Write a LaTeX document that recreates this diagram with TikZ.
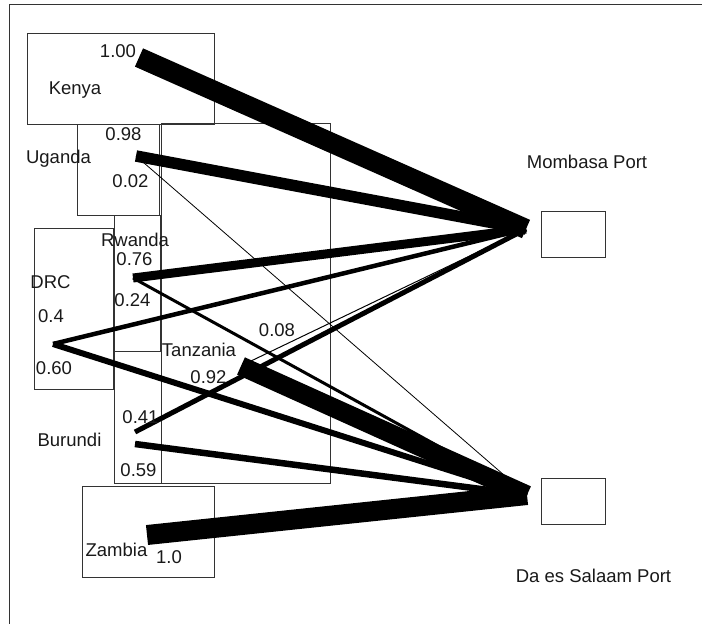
\documentclass[tikz,border=0pt]{standalone}
\usepackage{fontspec}
\setmainfont{Liberation Sans}
\begin{document}
\begin{tikzpicture}[x=1pt,y=-1pt,
  box/.style={draw=black!80,line width=0.8pt,inner sep=0pt},
  lbl/.style={anchor=base,inner sep=0pt,font=\fontsize{18.5}{22}\selectfont,text=black!90},
  flow/.style={draw=black,line cap=butt}]
\useasboundingbox (0,0) rectangle (702,624);
% frame
\draw[black!80,line width=0.8pt] (9.5,624) -- (9.5,4.5) -- (702,4.5);
% boxes
\node[box,minimum width=187pt,minimum height=91pt] (kenya) at (120.5,78.5) {};
\node[box,minimum width=82pt,minimum height=91pt] (uganda) at (118,169.5) {};
\node[box,minimum width=169pt,minimum height=360pt] (tanzania) at (245.5,303) {};
\node[box,minimum width=46pt,minimum height=136pt] (rwanda) at (137,283) {};
\node[box,minimum width=79pt,minimum height=161pt] (drc) at (73.5,308.5) {};
\node[box,minimum width=47pt,minimum height=132pt] (burundi) at (137.5,417) {};
\node[box,minimum width=132pt,minimum height=91pt] (zambia) at (148,531.5) {};
\node[box,minimum width=64pt,minimum height=46pt] (mombasa) at (573,234) {};
\node[box,minimum width=64pt,minimum height=46pt] (dar) at (573,501) {};
% sources and hubs
\coordinate (kS) at (139,57.5);
\coordinate (uS) at (136,156);
\coordinate (rS) at (133,278);
\coordinate (dS) at (53,344);
\coordinate (tS) at (241,366);
\coordinate (tS2) at (251,361);
\coordinate (bS1) at (135,432);
\coordinate (bS2) at (135,444);
\coordinate (zS) at (147,535);
\coordinate (mhub) at (526,229);
\coordinate (dhub) at (527,495);
% flows
\draw[flow,line width=20pt] (kS) -- (mhub);
\draw[flow,line width=11.5pt] (uS) -- (mhub);
\draw[flow,line width=0.8pt] (uS) -- (dhub);
\draw[flow,line width=9pt] (rS) -- (mhub);
\draw[flow,line width=3pt] (rS) -- (dhub);
\draw[flow,line width=4.5pt] (dS) -- (mhub);
\draw[flow,line width=6pt] (dS) -- (dhub);
\draw[flow,line width=19pt] (tS) -- (dhub);
\draw[flow,line width=1pt] (tS2) -- (mhub);
\draw[flow,line width=5pt] (bS1) -- (mhub);
\draw[flow,line width=6.5pt] (bS2) -- (dhub);
\draw[flow,line width=20pt] (zS) -- (dhub);
% labels
\node[lbl] (l1) at (118,57) {1.00};
\node[lbl] (l2) at (75,94) {Kenya};
\node[lbl] (l3) at (123.5,140) {0.98};
\node[lbl] (l4) at (58.5,163) {Uganda};
\node[lbl] (l5) at (130.5,187) {0.02};
\node[lbl] (l6) at (135,246.5) {Rwanda};
\node[lbl] (l7) at (134.5,265.5) {0.76};
\node[lbl] (l8) at (50.5,288.3) {DRC};
\node[lbl] (l9) at (132.5,306) {0.24};
\node[lbl] (l10) at (51,322.7) {0.4};
\node[lbl] (l11) at (277,336.7) {0.08};
\node[lbl] (l12) at (199,356.7) {Tanzania};
\node[lbl] (l13) at (208.5,383.3) {0.92};
\node[lbl] (l14) at (54,374) {0.60};
\node[lbl] (l15) at (140.5,423.3) {0.41};
\node[lbl] (l16) at (69.5,446.7) {Burundi};
\node[lbl] (l17) at (138.5,476.7) {0.59};
\node[lbl] (l18) at (116.5,556) {Zambia};
\node[lbl] (l19) at (169,563.3) {1.0};
\node[lbl] (l20) at (587,168.3) {Mombasa Port};
\node[lbl] (l21) at (593.5,582.3) {Da es Salaam Port};
\end{tikzpicture}
\end{document}
